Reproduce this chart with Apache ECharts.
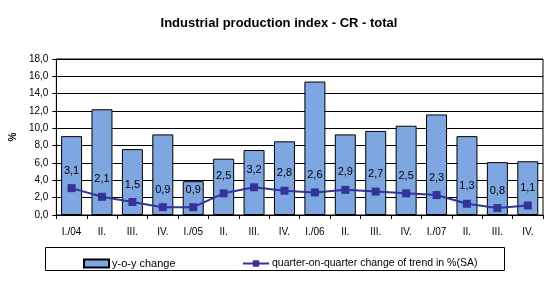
<!DOCTYPE html>
<html>
<head>
<meta charset="utf-8">
<script src="https://cdn.jsdelivr.net/npm/echarts@6/dist/echarts.min.js"></script>
<style>
html,body{margin:0;padding:0;background:#fff;}
#chart_container{width:558px;height:281px;}
</style>
</head>
<body>
<div id="chart_container"></div>
<script>
var quarters = ['I./04','II.','III.','IV.','I./05','II.','III.','IV.','I./06','II.','III.','IV.','I./07','II.','III.','IV.'];
var yoyChange = [9.1,12.2,7.6,9.3,3.9,6.5,7.5,8.5,15.4,9.3,9.7,10.3,11.6,9.1,6.1,6.2];
var qoqTrend = [3.1,2.1,1.5,0.9,0.9,2.5,3.2,2.8,2.6,2.9,2.7,2.5,2.3,1.3,0.8,1.1];

function comma(v){
	return v.toFixed(1).replace('.',',');
}

var chart = echarts.init(document.getElementById('chart_container'));
var fnt = 'Liberation Sans';
var option = {
	animation:false,
	backgroundColor:'#fff',
	textStyle:{fontFamily:fnt},
	title:{
		text:'Industrial production index - CR - total',
		left:'center', top:12,
		textStyle:{fontSize:13,fontWeight:'bold',color:'#000',fontFamily:fnt}
	},
	grid:{left:53,right:15,top:59,bottom:66,show:true,borderColor:'#000',borderWidth:1},
	legend:[
		{data:[{name:'y-o-y change',icon:'rect'}],left:78,top:253,itemWidth:25,itemHeight:8,itemGap:0,
		 textStyle:{fontSize:11,color:'#000',padding:[0,0,0,-2]}},
		{data:['quarter-on-quarter change of trend in %(SA)'],left:237,top:253,itemWidth:26,itemHeight:8,
		 textStyle:{fontSize:10.5,color:'#000',padding:[0,0,0,-2]}}
	],
	graphic:[{type:'rect',shape:{x:45.5,y:247.5,width:459,height:23},style:{fill:'none',stroke:'#000',lineWidth:1}}],
	xAxis:{
		type:'category',data:quarters,
		axisLine:{lineStyle:{color:'#000'}},
		axisTick:{show:true,length:4,lineStyle:{color:'#000'}},
		axisLabel:{color:'#000',fontSize:10,margin:12,interval:0}
	},
	yAxis:{
		type:'value',min:0,max:18,interval:2,
		name:'%',nameLocation:'middle',nameGap:31,nameRotate:90,
		nameTextStyle:{fontSize:10,color:'#000',fontWeight:'bold'},
		axisLine:{show:true,lineStyle:{color:'#000'}},
		axisTick:{show:true,length:4,lineStyle:{color:'#000'}},
		axisLabel:{color:'#000',fontSize:10,formatter:function(v){return comma(v);}},
		splitLine:{lineStyle:{color:'#000',width:1}}
	},
	series:[
		{
			name:'y-o-y change',type:'bar',data:yoyChange,barCategoryGap:'31%',
			itemStyle:{color:'#7ea6e0',borderColor:'#000',borderWidth:1}
		},
		{
			name:'quarter-on-quarter change of trend in %(SA)',type:'line',data:qoqTrend,
			symbol:'rect',symbolSize:8,
			lineStyle:{color:'#333399',width:2},
			itemStyle:{color:'#333399'},
			label:{show:true,position:'top',distance:8,color:'#000',fontSize:11,
				formatter:function(p){return comma(p.value);}}
		}
	]
};
chart.setOption(option);
</script>
</body>
</html>
